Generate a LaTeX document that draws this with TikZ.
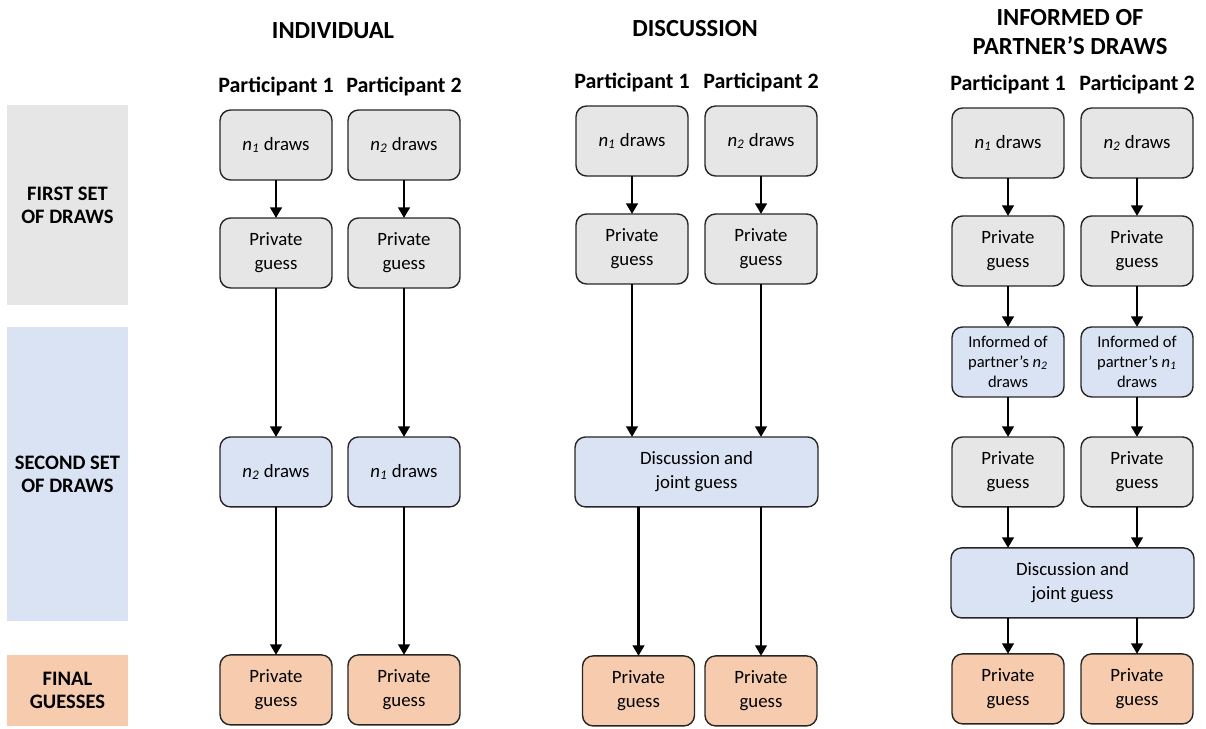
\documentclass[tikz,border=0pt]{standalone}
\usepackage{fontspec}
\setmainfont{Carlito}
\usetikzlibrary{positioning,arrows.meta,calc}

\definecolor{graybox}{HTML}{E7E6E6}
\definecolor{bluebox}{HTML}{DAE3F3}
\definecolor{orangebox}{HTML}{F6CBAE}

\newcommand{\nn}[1]{\textit{n}\textsubscript{\textit{#1}}}

\tikzset{
  box/.style={draw=black!85, line width=0.8pt, rounded corners=6pt,
    minimum width=2.24cm, minimum height=1.4cm, align=center,
    outer sep=0pt, inner sep=2pt, font=\fontsize{10.7}{13.5}\selectfont},
  first/.style={box, fill=graybox},
  second/.style={box, fill=bluebox},
  final/.style={box, fill=orangebox},
  wide/.style={minimum width=4.86cm},
  small/.style={font=\fontsize{9.4}{11.3}\selectfont},
  arr/.style={-{Triangle[length=6pt,width=6.5pt]}, line width=1.6pt},
  head/.style={font=\fontsize{14}{16}\selectfont\bfseries, align=center},
  part/.style={font=\fontsize{12.5}{14}\selectfont\bfseries},
  band/.style={minimum width=2.42cm, inner sep=0pt, align=center,
    font=\fontsize{11.7}{13}\selectfont\bfseries}
}

\begin{document}
\begin{tikzpicture}[x=0.02cm, y=-0.02cm]
  \useasboundingbox (0,0) rectangle (1206,728);

  % row bands
  \node[band, fill=graybox, minimum height=4cm] (bfirst) at (67.5,205) {FIRST SET\\OF DRAWS};
  \node[band, fill=bluebox, minimum height=5.88cm] (bsecond) at (67.5,474) {SECOND SET\\OF DRAWS};
  \node[band, fill=orangebox, minimum height=1.42cm] (bfinal) at (67.5,690.5) {FINAL\\GUESSES};

  % headers
  \node[head] (hind) at (333,31) {INDIVIDUAL};
  \node[head] (hdis) at (695,29) {DISCUSSION};
  \node[head] (hinf) at (1070,32) {INFORMED OF\\PARTNER’S DRAWS};

  % individual
  \node[first] (in1) at (276,145) {\nn{1} draws};
  \node[first, below=0.76cm of in1] (ipg1) {Private\\guess};
  \node[second, below=2.98cm of ipg1] (in2b) {\nn{2} draws};
  \node[final, below=2.96cm of in2b] (ifin1) {Private\\guess};
  \node[first] (in2) at (404,145) {\nn{2} draws};
  \node[first, below=0.76cm of in2] (ipg2) {Private\\guess};
  \node[second, below=2.98cm of ipg2] (in1b) {\nn{1} draws};
  \node[final, below=2.96cm of in1b] (ifin2) {Private\\guess};
  \node[part, above=0.16cm of in1] (ip1) {Participant 1};
  \node[part, above=0.16cm of in2] (ip2) {Participant 2};

  \draw[arr] (in1) -- (ipg1);
  \draw[arr] (ipg1) -- (in2b);
  \draw[arr] (in2b) -- (ifin1);
  \draw[arr] (in2) -- (ipg2);
  \draw[arr] (ipg2) -- (in1b);
  \draw[arr] (in1b) -- (ifin2);

  % discussion
  \node[first] (dn1) at (632,141) {\nn{1} draws};
  \node[first, below=0.76cm of dn1] (dpg1) {Private\\guess};
  \node[first] (dn2) at (761,141) {\nn{2} draws};
  \node[first, below=0.76cm of dn2] (dpg2) {Private\\guess};
  \coordinate (dmid) at ($(dpg1.south)!0.5!(dpg2.south)$);
  \node[second, wide, below=3.06cm of dmid] (ddisc) {Discussion and\\joint guess};
  \node[final, anchor=north] (dfin1) at ([xshift=0.13cm,yshift=-2.98cm]ddisc.south -| dpg1) {Private\\guess};
  \node[final, anchor=north] (dfin2) at ([yshift=-2.98cm]ddisc.south -| dpg2) {Private\\guess};
  \node[part, above=0.16cm of dn1] (dp1) {Participant 1};
  \node[part, above=0.16cm of dn2] (dp2) {Participant 2};

  \draw[arr] (dn1) -- (dpg1);
  \draw[arr] (dn2) -- (dpg2);
  \draw[arr] (dpg1) -- (dpg1 |- ddisc.north);
  \draw[arr] (dpg2) -- (dpg2 |- ddisc.north);
  \draw[arr] (ddisc.south -| dfin1) -- (dfin1);
  \draw[arr] (ddisc.south -| dfin2) -- (dfin2);

  % informed of partner's draws
  \node[first] (fn1) at (1008,143) {\nn{1} draws};
  \node[first, below=0.76cm of fn1] (fpg1) {Private\\guess};
  \node[second, small, below=0.82cm of fpg1] (finf1) {Informed of\\partner’s \nn{2}\\draws};
  \node[first, below=0.8cm of finf1] (fpgb1) {Private\\guess};
  \node[first] (fn2) at (1137,143) {\nn{2} draws};
  \node[first, below=0.76cm of fn2] (fpg2) {Private\\guess};
  \node[second, small, below=0.82cm of fpg2] (finf2) {Informed of\\partner’s \nn{1}\\draws};
  \node[first, below=0.8cm of finf2] (fpgb2) {Private\\guess};
  \coordinate (fmid) at ($(fpgb1.south)!0.5!(fpgb2.south)$);
  \node[second, wide, below=0.82cm of fmid] (fdisc) {Discussion and\\joint guess};
  \node[final, anchor=north] (ffin1) at ([yshift=-0.72cm]fdisc.south -| fpgb1) {Private\\guess};
  \node[final, anchor=north] (ffin2) at ([yshift=-0.72cm]fdisc.south -| fpgb2) {Private\\guess};
  \node[part, above=0.16cm of fn1] (fp1) {Participant 1};
  \node[part, above=0.16cm of fn2] (fp2) {Participant 2};

  \draw[arr] (fn1) -- (fpg1);
  \draw[arr] (fpg1) -- (finf1);
  \draw[arr] (finf1) -- (fpgb1);
  \draw[arr] (fn2) -- (fpg2);
  \draw[arr] (fpg2) -- (finf2);
  \draw[arr] (finf2) -- (fpgb2);
  \draw[arr] (fpgb1) -- (fpgb1 |- fdisc.north);
  \draw[arr] (fpgb2) -- (fpgb2 |- fdisc.north);
  \draw[arr] (fdisc.south -| ffin1) -- (ffin1);
  \draw[arr] (fdisc.south -| ffin2) -- (ffin2);
\end{tikzpicture}
\end{document}
